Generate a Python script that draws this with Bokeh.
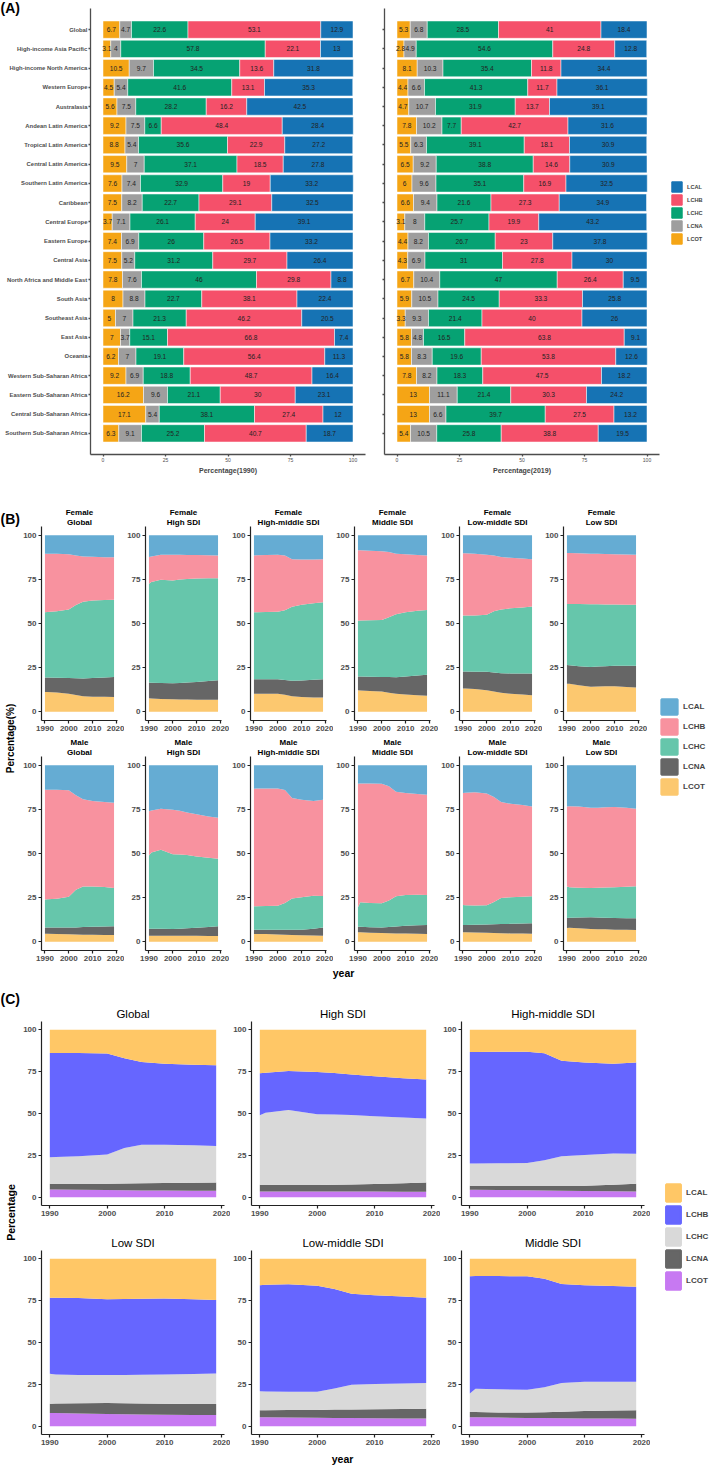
import numpy as np
from bokeh.plotting import figure
from bokeh.models import (ColumnDataSource, FactorRange, Range1d, FixedTicker,
                          Legend, LegendItem, Label, Title, CustomJSTickFormatter)
from bokeh.layouts import row, column
from bokeh.embed import file_html
from bokeh.resources import INLINE
from bokeh.core.properties import value

SANS = "Liberation Sans"

SERIES = ["LCOT", "LCNA", "LCHC", "LCHB", "LCAL"]
LEGEND_ORDER = ["LCAL", "LCHB", "LCHC", "LCNA", "LCOT"]

# ---------------- Panel A data ----------------
REGIONS = ["Global", "High-income Asia Pacific", "High-income North America", "Western Europe",
           "Australasia", "Andean Latin America", "Tropical Latin America", "Central Latin America",
           "Southern Latin America", "Caribbean", "Central Europe", "Eastern Europe", "Central Asia",
           "North Africa and Middle East", "South Asia", "Southeast Asia", "East Asia", "Oceania",
           "Western Sub-Saharan Africa", "Eastern Sub-Saharan Africa", "Central Sub-Saharan Africa",
           "Southern Sub-Saharan Africa"]

LCOT_1990 = [6.7, 3.1, 10.5, 4.5, 5.6, 9.2, 8.8, 9.5, 7.6, 7.5, 3.7, 7.4, 7.5, 7.8, 8, 5, 7, 6.2, 9.2, 16.2, 17.1, 6.3]
LCNA_1990 = [4.7, 4, 9.7, 5.4, 7.5, 7.5, 5.4, 7, 7.4, 8.2, 7.1, 6.9, 5.2, 7.6, 8.8, 7, 3.7, 7, 6.9, 9.6, 5.4, 9.1]
LCHC_1990 = [22.6, 57.8, 34.5, 41.6, 28.2, 6.6, 35.6, 37.1, 32.9, 22.7, 26.1, 26, 31.2, 46, 22.7, 21.3, 15.1, 19.1, 18.8, 21.1, 38.1, 25.2]
LCHB_1990 = [53.1, 22.1, 13.6, 13.1, 16.2, 48.4, 22.9, 18.5, 19, 29.1, 24, 26.5, 29.7, 29.8, 38.1, 46.2, 66.8, 56.4, 48.7, 30, 27.4, 40.7]
LCAL_1990 = [12.9, 13, 31.8, 35.3, 42.5, 28.4, 27.2, 27.8, 33.2, 32.5, 39.1, 33.2, 26.4, 8.8, 22.4, 20.5, 7.4, 11.3, 16.4, 23.1, 12, 18.7]

LCOT_2019 = [5.3, 2.8, 8.1, 4.4, 4.7, 7.8, 5.5, 6.5, 6, 6.6, 3.1, 4.4, 4.3, 6.7, 5.9, 3.3, 5.8, 5.8, 7.8, 13, 13, 5.4]
LCNA_2019 = [6.8, 4.9, 10.3, 6.6, 10.7, 10.2, 6.3, 9.2, 9.6, 9.4, 8, 8.2, 6.9, 10.4, 10.5, 9.3, 4.8, 8.3, 8.2, 11.1, 6.6, 10.5]
LCHC_2019 = [28.5, 54.6, 35.4, 41.3, 31.9, 7.7, 39.1, 38.8, 35.1, 21.6, 25.7, 26.7, 31, 47, 24.5, 21.4, 16.5, 19.6, 18.3, 21.4, 39.7, 25.8]
LCHB_2019 = [41, 24.8, 11.8, 11.7, 13.7, 42.7, 18.1, 14.6, 16.9, 27.3, 19.9, 23, 27.8, 26.4, 33.3, 40, 63.8, 53.8, 47.5, 30.3, 27.5, 38.8]
LCAL_2019 = [18.4, 12.8, 34.4, 36.1, 39.1, 31.6, 30.9, 30.9, 32.5, 34.9, 43.2, 37.8, 30, 9.5, 25.8, 26, 9.1, 12.6, 18.2, 24.2, 13.2, 19.5]

# ---------------- Panel B / C data (percent shares by year) ----------------
YEARS = [1990, 1991, 1995, 2000, 2003, 2006, 2010, 2015, 2019]

F_GLOBAL = dict(LCOT=[11.2, 11.2, 10.9, 10.1, 9.4, 8.8, 8.5, 8.4, 8.3],
                LCNA=[8.2, 8.2, 8.3, 9.0, 9.5, 10.0, 10.6, 11.0, 11.4],
                LCHC=[37.0, 37.1, 37.8, 38.9, 41.6, 43.5, 43.9, 43.9, 43.7],
                LCHB=[33.1, 33.0, 32.5, 31.3, 28.0, 25.7, 24.8, 24.3, 24.1],
                LCAL=[10.5, 10.5, 10.5, 10.7, 11.5, 12.0, 12.2, 12.4, 12.5])
F_HIGH = dict(LCOT=[7.6, 7.5, 7.2, 7.0, 6.9, 6.9, 6.8, 6.8, 6.8],
              LCNA=[8.9, 8.9, 9.0, 9.1, 9.4, 9.6, 10.1, 10.6, 11.0],
              LCHC=[56.0, 57.1, 58.6, 58.3, 58.7, 58.8, 58.6, 58.2, 57.9],
              LCHB=[15.2, 14.5, 14.2, 14.6, 14.0, 13.6, 13.3, 13.1, 12.9],
              LCAL=[12.3, 12.0, 11.0, 11.0, 11.0, 11.1, 11.2, 11.3, 11.4])
F_HIGHMID = dict(LCOT=[10.2, 10.2, 10.2, 10.2, 9.6, 8.8, 8.3, 8.1, 8.0],
                 LCNA=[8.2, 8.2, 8.2, 8.2, 8.4, 8.7, 9.4, 10.0, 10.4],
                 LCHC=[38.0, 38.0, 38.1, 38.3, 39.5, 42.0, 43.0, 43.4, 43.6],
                 LCHB=[32.2, 32.3, 32.4, 32.3, 31.1, 26.9, 25.6, 24.8, 24.4],
                 LCAL=[11.4, 11.3, 11.1, 11.0, 11.4, 13.6, 13.7, 13.7, 13.6])
F_MID = dict(LCOT=[12.1, 12.0, 11.7, 11.4, 10.8, 10.1, 9.7, 9.3, 9.1],
             LCNA=[7.8, 7.9, 8.1, 8.3, 8.8, 9.4, 10.3, 11.2, 11.8],
             LCHC=[31.7, 31.8, 32.0, 32.3, 33.9, 35.8, 36.4, 36.7, 36.8],
             LCHB=[39.9, 39.8, 39.5, 39.0, 37.1, 34.3, 32.8, 31.6, 30.8],
             LCAL=[8.5, 8.5, 8.7, 9.0, 9.4, 10.4, 10.8, 11.2, 11.5])
F_LOWMID = dict(LCOT=[13.1, 13.1, 12.9, 12.1, 11.4, 10.7, 10.2, 9.7, 9.3],
                LCNA=[9.7, 9.7, 9.8, 10.5, 10.8, 11.1, 11.5, 11.9, 12.3],
                LCHC=[31.7, 31.7, 31.8, 32.4, 34.8, 36.2, 36.9, 37.5, 38.0],
                LCHB=[35.3, 35.3, 35.0, 34.0, 31.5, 29.7, 28.7, 27.7, 26.8],
                LCAL=[10.2, 10.2, 10.5, 11.0, 11.5, 12.3, 12.7, 13.2, 13.6])
F_LOW = dict(LCOT=[15.9, 15.8, 15.0, 14.2, 14.3, 14.4, 14.4, 14.0, 13.7],
             LCNA=[10.5, 10.5, 10.8, 11.2, 11.3, 11.4, 11.6, 12.0, 12.3],
             LCHC=[34.7, 34.8, 35.2, 35.5, 35.3, 35.0, 34.8, 34.7, 34.7],
             LCHB=[28.9, 28.9, 28.8, 28.7, 28.6, 28.6, 28.5, 28.4, 28.3],
             LCAL=[10.0, 10.0, 10.2, 10.4, 10.5, 10.6, 10.7, 10.9, 11.0])

M_GLOBAL = dict(LCOT=[4.5, 4.5, 4.4, 4.2, 4.1, 4.0, 3.9, 3.8, 3.8],
                LCNA=[3.5, 3.5, 3.6, 3.8, 4.0, 4.3, 4.5, 4.8, 4.9],
                LCHC=[15.9, 16.0, 16.4, 17.5, 21.3, 23.0, 22.9, 22.4, 21.8],
                LCHB=[62.3, 62.2, 61.8, 60.3, 53.6, 49.5, 48.4, 48.2, 48.3],
                LCAL=[13.8, 13.8, 13.8, 14.2, 17.0, 19.2, 20.3, 20.8, 21.2])
M_HIGH = dict(LCOT=[3.4, 3.4, 3.4, 3.3, 3.3, 3.3, 3.3, 3.2, 3.2],
              LCNA=[4.0, 4.0, 3.9, 3.9, 4.1, 4.3, 4.6, 5.1, 5.5],
              LCHC=[41.5, 43.1, 44.8, 42.4, 42.0, 41.5, 40.4, 39.3, 38.3],
              LCHB=[25.1, 23.9, 23.3, 25.2, 24.8, 24.2, 23.9, 23.4, 23.3],
              LCAL=[26.0, 25.6, 24.6, 25.2, 25.8, 26.7, 27.8, 29.0, 29.7])
M_HIGHMID = dict(LCOT=[4.4, 4.4, 4.3, 4.1, 4.0, 3.8, 3.6, 3.5, 3.4],
                 LCNA=[2.4, 2.4, 2.5, 2.7, 2.8, 3.0, 3.2, 3.9, 4.6],
                 LCHC=[13.3, 13.3, 13.4, 13.6, 15.2, 17.7, 18.4, 18.7, 17.9],
                 LCHB=[66.6, 66.7, 66.7, 66.5, 64.0, 57.0, 55.3, 53.6, 54.6],
                 LCAL=[13.3, 13.2, 13.1, 13.1, 14.0, 18.5, 19.5, 20.3, 19.5])
M_MID = dict(LCOT=[5.3, 5.3, 5.1, 4.9, 4.8, 4.7, 4.6, 4.5, 4.4],
             LCNA=[3.2, 3.1, 3.1, 3.2, 3.5, 3.9, 4.5, 4.8, 5.1],
             LCHC=[11.0, 13.9, 13.8, 13.7, 15.0, 17.2, 17.4, 17.3, 17.0],
             LCHB=[70.1, 67.4, 67.7, 67.8, 64.8, 59.2, 57.8, 57.2, 56.8],
             LCAL=[10.4, 10.3, 10.3, 10.4, 11.9, 15.0, 15.7, 16.2, 16.7])
M_LOWMID = dict(LCOT=[5.3, 5.3, 5.2, 5.0, 4.9, 4.8, 4.7, 4.6, 4.5],
                LCNA=[4.2, 4.2, 4.4, 4.7, 5.0, 5.2, 5.4, 5.7, 5.9],
                LCHC=[11.3, 11.2, 10.9, 10.9, 12.6, 14.7, 15.1, 15.2, 15.4],
                LCHB=[63.5, 63.8, 64.3, 63.4, 59.5, 54.5, 53.0, 52.0, 50.9],
                LCAL=[15.7, 15.5, 15.2, 16.0, 18.0, 20.8, 21.8, 22.5, 23.3])
M_LOW = dict(LCOT=[7.8, 7.9, 7.6, 7.2, 7.1, 7.0, 6.8, 6.7, 6.6],
             LCNA=[5.6, 5.6, 6.1, 6.6, 6.6, 6.6, 6.6, 6.6, 6.7],
             LCHC=[17.9, 17.3, 16.9, 16.7, 16.9, 17.1, 17.5, 17.9, 18.1],
             LCHB=[45.4, 46.0, 46.0, 45.4, 45.4, 45.5, 45.4, 44.7, 44.0],
             LCAL=[23.3, 23.2, 23.4, 24.1, 24.0, 23.8, 23.7, 24.1, 24.6])

SDI_NAMES = ["Global", "High SDI", "High-middle SDI", "Middle SDI", "Low-middle SDI", "Low SDI"]
FEMALE = [F_GLOBAL, F_HIGH, F_HIGHMID, F_MID, F_LOWMID, F_LOW]
MALE = [M_GLOBAL, M_HIGH, M_HIGHMID, M_MID, M_LOWMID, M_LOW]
C_NAMES = ["Global", "High SDI", "High-middle SDI", "Low SDI", "Low-middle SDI", "Middle SDI"]
C_DATA = [M_GLOBAL, M_HIGH, M_HIGHMID, M_LOW, M_LOWMID, M_MID]

A_COLORS = ["#F5A515", "#9E9E9E", "#06A273", "#F5506A", "#1673B4"]
B_COLORS = ["#FCC86F", "#666666", "#66C6AB", "#F8929F", "#65ACD3"]
C_COLORS = ["#C779F2", "#666666", "#D9D9D9", "#6666FF", "#FFC766"]


def base_fig(**kw):
    p = figure(toolbar_location=None, output_backend="svg", title=None, **kw)
    p.outline_line_color = None
    p.background_fill_color = "white"
    p.border_fill_color = "white"
    return p


def style_axes(p, font, size, color="#4D4D4D", style="bold", line_color="#333333",
               line_w=1.2, tick_out=3, standoff=2):
    p.axis.axis_line_color = line_color
    p.axis.axis_line_width = line_w
    p.axis.major_tick_line_color = line_color
    p.axis.major_tick_line_width = line_w
    p.axis.major_tick_out = tick_out
    p.axis.major_tick_in = 0
    p.axis.minor_tick_line_color = None
    p.axis.major_label_text_font = font
    p.axis.major_label_text_font_size = size
    p.axis.major_label_text_font_style = style
    p.axis.major_label_text_color = color
    p.axis.major_label_standoff = standoff
    p.grid.visible = False


def add_label(p, text, x, y, size, style="bold", angle=0.0, align="left", baseline="middle"):
    p.add_layout(Label(x=x, y=y, x_units="screen", y_units="screen", text=text,
                       text_font_size=size, text_font=SANS, text_font_style=style,
                       angle=angle, text_align=align, text_baseline=baseline, text_color="black"))


def bar_panel(vals, xlabel, border_left, show_names):
    data = {"region": REGIONS}
    for s, v in zip(SERIES, vals):
        data[s] = v
    src = ColumnDataSource(data)
    yr = FactorRange(factors=REGIONS[::-1], range_padding=0.6, range_padding_units="absolute")
    p = base_fig(y_range=yr, x_range=Range1d(-5, 105), width=border_left + 275 + 4, height=8 + 446 + 24,
                 min_border_left=border_left, min_border_right=4, min_border_top=8,
                 min_border_bottom=24)
    p.hbar_stack(SERIES, y="region", height=0.9, color=A_COLORS, line_color="white",
                 line_width=0.5, source=src)
    cum = np.zeros(len(REGIONS))
    for s, v in zip(SERIES, vals):
        arr = np.array(v, dtype=float)
        mid = cum + arr / 2.0
        cum = cum + arr
        p.text(x=mid, y=REGIONS, text=[f"{x:g}" for x in arr], text_align="center",
               text_baseline="middle", text_font_size="6.6px", text_color="#222222",
               text_font=value(SANS))
    style_axes(p, SANS, "5px", color="#4D4D4D", style="normal", line_color="#4D4D4D",
               line_w=1.3, tick_out=2, standoff=1)
    p.yaxis.major_label_text_font_size = "5.9px"
    p.yaxis.major_label_text_font_style = "bold"
    if not show_names:
        p.yaxis.formatter = CustomJSTickFormatter(code="return ''")
        p.yaxis.major_label_standoff = 0
    p.xaxis.ticker = FixedTicker(ticks=[0, 25, 50, 75, 100], minor_ticks=[])
    p.xaxis.axis_label = xlabel
    p.xaxis.axis_label_text_font = SANS
    p.xaxis.axis_label_text_font_size = "7px"
    p.xaxis.axis_label_text_font_style = "bold"
    p.xaxis.axis_label_standoff = 2
    return p


def area_panel(data, titles, colors, fw, fh, bl, br, bt, bb, tick_size,
               title_size, title_style, title_standoff):
    src = ColumnDataSource(dict(year=YEARS, **data))
    p = base_fig(x_range=Range1d(1988.55, 2020.45), y_range=Range1d(-5, 105),
                 width=bl + fw + br, height=bt + fh + bb,
                 min_border_left=bl, min_border_right=br, min_border_top=bt, min_border_bottom=bb)
    p.varea_stack(SERIES, x="year", color=colors, source=src)
    for i, t in enumerate(reversed(titles)):
        p.add_layout(Title(text=t, align="center", text_font_size=title_size, text_font=SANS,
                           text_font_style=title_style, text_color="black",
                           standoff=title_standoff), "above")
    style_axes(p, SANS, tick_size, color="#4D4D4D", style="bold", line_color="#222222",
               line_w=1.2, tick_out=3, standoff=2)
    p.xaxis.ticker = FixedTicker(ticks=[1990, 2000, 2010, 2020], minor_ticks=[])
    p.yaxis.ticker = FixedTicker(ticks=[0, 25, 50, 75, 100], minor_ticks=[])
    return p


def legend_fig(colors, w, h, gw, gh, spacing, lw, size, loc, standoff):
    p = base_fig(width=w, height=h, x_range=Range1d(0, 1), y_range=Range1d(0, 1),
                 x_axis_type=None, y_axis_type=None, min_border=0)
    items = []
    for name, c in zip(LEGEND_ORDER, colors[::-1]):
        r = p.quad(left=[-10], right=[-9], bottom=[-10], top=[-9], fill_color=c,
                   line_color=c, line_width=lw)
        items.append(LegendItem(label=name, renderers=[r]))
    leg = Legend(items=items, location=loc, glyph_width=gw, glyph_height=gh, label_height=gh,
                 spacing=spacing, padding=0, margin=0, label_standoff=standoff,
                 label_text_font_size=size, label_text_font=SANS, label_text_font_style="bold",
                 label_text_baseline="middle", border_line_color=None, background_fill_alpha=0)
    p.add_layout(leg)
    return p


def blank_fig(w, h):
    return base_fig(width=w, height=h, x_range=Range1d(0, 1), y_range=Range1d(0, 1),
                    x_axis_type=None, y_axis_type=None, min_border=0)


# ---------------- Panel A ----------------
a1 = bar_panel([LCOT_1990, LCNA_1990, LCHC_1990, LCHB_1990, LCAL_1990], "Percentage(1990)", 90, True)
a2 = bar_panel([LCOT_2019, LCNA_2019, LCHC_2019, LCHB_2019, LCAL_2019], "Percentage(2019)", 15, False)
a1.add_layout(Title(text="(A)", align="left", offset=-90, standoff=-15, text_font_size="14px",
                    text_font=SANS, text_font_style="bold", text_color="black"), "above")
legA = legend_fig(A_COLORS, 46, 478, 13, 13, 0, 1, "5.6px", (7, 209), 4)
rowA = row(a1, a2, legA)

# ---------------- Panel B ----------------
WB = [104, 105, 104, 105, 104, 105]
fem = []
mal = []
for k in range(6):
    br = WB[k] - 21 - 76
    fem.append(area_panel(FEMALE[k], ["Female", SDI_NAMES[k]], B_COLORS, 76, 194, 21, br,
                          48, 15, "8px", "8px", "bold", -1))
    mal.append(area_panel(MALE[k], ["Male", SDI_NAMES[k]], B_COLORS, 76, 194, 21, br,
                          21, 16, "8px", "8px", "bold", -1))
yearB = blank_fig(sum(WB), 14)
add_label(yearB, "year", 323, 8, "10.5px", align="center")
narB = blank_fig(20, 502)
add_label(narB, "(B)", 0, 462, "14px")
add_label(narB, "Percentage(%)", 10, 242, "10px", angle=np.pi / 2, align="center")
legB = legend_fig(B_COLORS, 62, 502, 20, 19, 1, 2.3, "8px", (12, 184), 4)
rowB = row(narB, column(row(*fem), row(*mal), yearB), legB)

# ---------------- Panel C ----------------
ctop = []
cbot = []
for k in range(3):
    ctop.append(area_panel(C_DATA[k], [C_NAMES[k]], C_COLORS, 184, 184, 20, 6, 41, 18,
                           "8px", "11.5px", "normal", 4))
for k in range(3, 6):
    cbot.append(area_panel(C_DATA[k], [C_NAMES[k]], C_COLORS, 184, 184, 20, 6, 27, 17,
                           "8px", "11.5px", "normal", 3))
yearC = blank_fig(630, 14)
add_label(yearC, "year", 322, 7, "10.5px", align="center")
narC = blank_fig(20, 485)
add_label(narC, "(C)", 0, 467, "14px")
add_label(narC, "Percentage", 10, 253, "10.5px", angle=np.pi / 2, align="center")
legC = legend_fig(C_COLORS, 59, 485, 18, 21, 1, 2.5, "8px", (14, 174), 4)
rowC = row(narC, column(row(*ctop), row(*cbot), yearC), legC)

layout = column(rowA, rowB, rowC)
open("out.html", "w").write(file_html(layout, INLINE))
